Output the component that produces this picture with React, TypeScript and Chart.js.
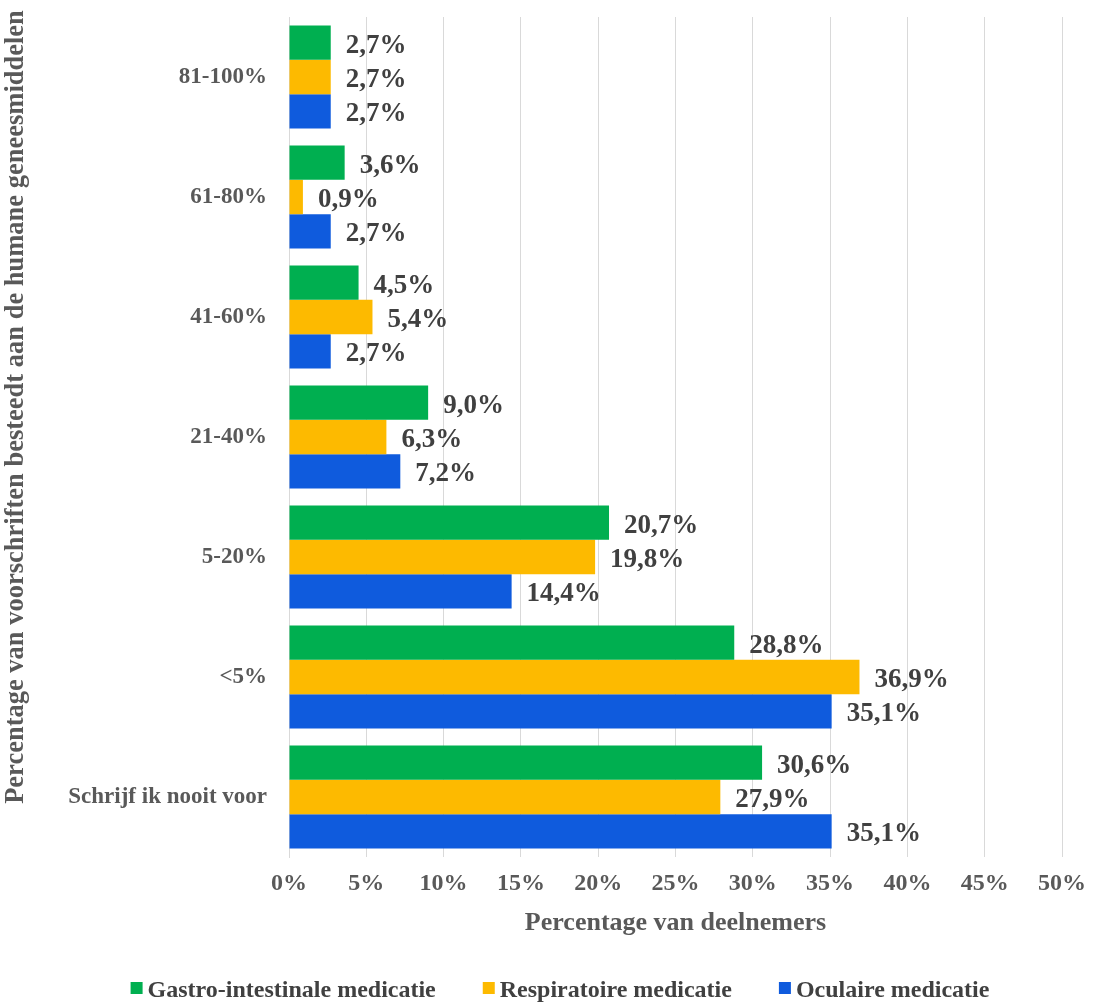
import React, { useEffect, useRef } from "react";
import { Chart, registerables } from "chart.js";

Chart.register(...registerables);

const categories = ["81-100%", "61-80%", "41-60%", "21-40%", "5-20%", "<5%", "Schrijf ik nooit voor"];
const gastro = [2.7, 3.6, 4.5, 9.0, 20.7, 28.8, 30.6];
const respiratoire = [2.7, 0.9, 5.4, 6.3, 19.8, 36.9, 27.9];
const oculaire = [2.7, 2.7, 2.7, 7.2, 14.4, 35.1, 35.1];
const seriesNames = ["Gastro-intestinale medicatie", "Respiratoire medicatie", "Oculaire medicatie"];
const xTicks = [0, 5, 10, 15, 20, 25, 30, 35, 40, 45, 50];
const xTitle = "Percentage van deelnemers";
const yTitle = "Percentage van voorschriften besteedt aan de humane geneesmiddelen";

const FONT = "'Liberation Serif', 'Times New Roman', serif";
const COLORS = ["#00AF50", "#FDBA00", "#0F5BDD"];

const fmt = (v: number) => v.toFixed(1).replace(".", ",") + "%";

const labelPlugin = {
  id: "barLabels",
  afterDatasetsDraw(chart: any) {
    const ctx = chart.ctx;
    ctx.save();
    ctx.font = `bold 27px ${FONT}`;
    ctx.fillStyle = "#404040";
    ctx.textAlign = "left";
    ctx.textBaseline = "middle";
    chart.data.datasets.forEach((ds: any, di: number) => {
      const meta = chart.getDatasetMeta(di);
      meta.data.forEach((bar: any, i: number) => {
        ctx.fillText(fmt(ds.data[i]), bar.x + 15, bar.y + 3);
      });
    });
    ctx.restore();
  },
};

const yTitlePlugin = {
  id: "yTitle",
  afterDraw(chart: any) {
    const ctx = chart.ctx;
    ctx.save();
    ctx.font = `bold 26.5px ${FONT}`;
    ctx.fillStyle = "#595959";
    ctx.textAlign = "center";
    ctx.textBaseline = "middle";
    ctx.translate(16, 407);
    ctx.rotate(-Math.PI / 2);
    ctx.fillText(yTitle, 0, 0);
    ctx.restore();
  },
};

const legendPlugin = {
  id: "customLegend",
  afterDraw(chart: any) {
    const ctx = chart.ctx;
    ctx.save();
    ctx.font = `bold 24px ${FONT}`;
    ctx.textBaseline = "middle";
    ctx.textAlign = "left";
    const box = 12;
    const gapBox = 5;
    const gapItem = 47;
    const items = chart.data.datasets.map((ds: any) => ({
      text: ds.label,
      color: ds.backgroundColor,
      w: box + gapBox + ctx.measureText(ds.label).width,
    }));
    const total = items.reduce((a: number, it: any) => a + it.w, 0) + gapItem * (items.length - 1);
    let x = chart.width / 2 + 11 - total / 2;
    const y = 990;
    items.forEach((it: any) => {
      ctx.fillStyle = it.color;
      ctx.fillRect(x, y - box / 2 - 2, box, box);
      ctx.fillStyle = "#404040";
      ctx.fillText(it.text, x + box + gapBox, y + 1);
      x += it.w + gapItem;
    });
    ctx.restore();
  },
};

export default function App() {
  const ref = useRef<HTMLCanvasElement>(null);
  useEffect(() => {
    document.body.style.margin = "0";
    const chart = new Chart(ref.current!, {
      type: "bar",
      data: {
        labels: categories,
        datasets: [gastro, respiratoire, oculaire].map((d, i) => ({
          label: seriesNames[i],
          data: d,
          backgroundColor: COLORS[i],
          borderWidth: 0,
          barPercentage: 1,
          categoryPercentage: 0.86,
        })),
      },
      options: {
        indexAxis: "y",
        animation: false,
        responsive: false,
        maintainAspectRatio: false,
        layout: { padding: { top: 17, right: 32, left: 0, bottom: 26 } },
        scales: {
          x: {
            min: 0,
            max: 50,
            afterBuildTicks: (s: any) => {
              s.ticks = xTicks.map((v) => ({ value: v }));
            },
            afterFit: (s: any) => {
              s.height = 120;
            },
            ticks: {
              callback: (v: any) => v + "%",
              color: "#595959",
              font: { family: FONT, size: 24, weight: "bold" },
              padding: 12,
              maxRotation: 0,
            },
            grid: { color: "#D9D9D9", drawTicks: false, lineWidth: 1 },
            border: { display: false },
            title: {
              display: true,
              text: xTitle,
              color: "#595959",
              font: { family: FONT, size: 26, weight: "bold" },
              padding: { top: 0, bottom: 38 },
            },
          },
          y: {
            afterFit: (s: any) => {
              s.width = 289;
              s.paddingTop = 0;
              s.paddingBottom = 0;
            },
            ticks: {
              color: "#595959",
              font: { family: FONT, size: 23, weight: "bold" },
              padding: 22,
            },
            grid: { display: false, drawTicks: false },
            border: { display: true, color: "#D9D9D9", width: 1 },
          },
        },
        plugins: {
          legend: { display: false },
          tooltip: { enabled: false },
        },
      },
      plugins: [labelPlugin, yTitlePlugin, legendPlugin],
    } as any);
    return () => chart.destroy();
  }, []);
  return (
    <div style={{ width: 1098, height: 1003 }}>
      <canvas ref={ref} width={1098} height={1003} style={{ display: "block" }} />
    </div>
  );
}
